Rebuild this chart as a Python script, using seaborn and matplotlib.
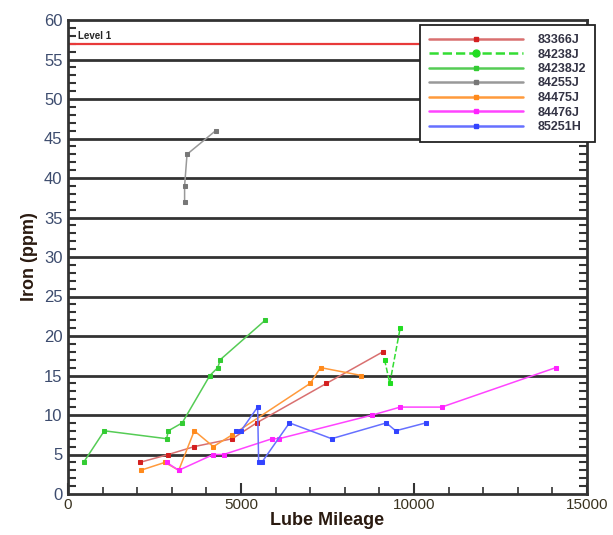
import numpy as np
import pandas as pd
import matplotlib
matplotlib.use("Agg")
import matplotlib.pyplot as plt
import seaborn as sns
from matplotlib.ticker import MultipleLocator

# series (lube mileage, iron ppm)
s83366J_x = [2075, 2900, 3650, 4750, 5450, 7470, 9100]
s83366J_y = [4, 5, 6, 7, 9, 14, 18]
s84238J_x = [9150, 9300, 9600]
s84238J_y = [17, 14, 21]
s84238J2_x = [450, 1050, 2850, 2900, 3300, 4100, 4330, 4400, 5700]
s84238J2_y = [4, 8, 7, 8, 9, 15, 16, 17, 22]
s84255J_x = [3370, 3370, 3440, 4270]
s84255J_y = [37, 39, 43, 46]
s84475J_x = [2100, 2800, 3200, 3650, 4200, 4750, 7000, 7300, 8480]
s84475J_y = [3, 4, 3, 8, 6, 7.5, 14, 16, 15]
s84476J_x = [2850, 3200, 4200, 4500, 5900, 6100, 8800, 9600, 10800, 14100]
s84476J_y = [4, 3, 5, 5, 7, 7, 10, 11, 11, 16]
s85251H_x = [4850, 5000, 5480, 5510, 5600, 6400, 7620, 9200, 9470, 10340]
s85251H_y = [8, 8, 11, 4, 4, 9, 7, 9, 8, 9]
level1 = 57

names = ["83366J", "84238J", "84238J2", "84255J", "84475J", "84476J", "85251H"]
xs = [s83366J_x, s84238J_x, s84238J2_x, s84255J_x, s84475J_x, s84476J_x, s85251H_x]
ys = [s83366J_y, s84238J_y, s84238J2_y, s84255J_y, s84475J_y, s84476J_y, s85251H_y]
colors = ["#d42020", "#22dd22", "#33cc33", "#777777", "#ff8a1c", "#ff22ff", "#3344ff"]
line_colors = ["#d97070", "#33dd33", "#55cc55", "#999999", "#ff9a3c", "#ff44ff", "#6670ff"]

sns.set_style("white")
plt.rcParams['font.family'] = ['Liberation Sans', 'DejaVu Sans']

fig = plt.figure(figsize=(6.13, 5.35), dpi=100)
ax = fig.add_axes([68 / 613, 1 - 494 / 535, (587 - 68) / 613, (494 - 20) / 535])

for yv in range(5, 60, 5):
    ax.axhline(yv, color="#333333", lw=2, zorder=1)
ax.axhline(level1, color="#e83a3a", lw=1.6, zorder=2)
ax.text(300, level1 + 0.4, "Level 1", fontsize=7, fontweight="bold", va="bottom", ha="left")

handles = []
for name, x, y, c, lc in zip(names, xs, ys, colors, line_colors):
    df = pd.DataFrame({"mileage": x, "iron": y})
    ls = "--" if name == "84238J" else "-"
    sns.lineplot(data=df, x="mileage", y="iron", ax=ax, sort=False, estimator=None,
                 color=lc, lw=1.1, linestyle=ls, marker="s", markersize=3.5,
                 markerfacecolor=c, markeredgecolor=c, zorder=3)
    h = plt.Line2D([], [], color=lc, lw=1.8, linestyle=ls, marker="o" if name == "84238J" else "s",
                   markersize=5 if name == "84238J" else 2.5, markerfacecolor=c, markeredgecolor=c)
    handles.append(h)

ax.set_xlim(0, 15000)
ax.set_ylim(0, 60)
ax.xaxis.set_major_locator(MultipleLocator(5000))
ax.xaxis.set_minor_locator(MultipleLocator(1000))
ax.yaxis.set_major_locator(MultipleLocator(5))
ax.yaxis.set_minor_locator(MultipleLocator(1))
ax.tick_params(which="both", direction="in", left=True, bottom=True, top=False, right=True,
               color="#333333")
ax.tick_params(which="major", axis="x", length=8, width=1.5, labelsize=11, labelcolor="#3a3320", pad=3)
ax.tick_params(which="minor", axis="x", length=5, width=1.2)
ax.tick_params(which="major", axis="y", length=0, labelsize=12, labelcolor="#3d4c6e", pad=4)
ax.tick_params(which="minor", axis="y", length=6, width=1.5)

for side in ["left", "bottom", "right", "top"]:
    ax.spines[side].set_color("#333333")
    ax.spines[side].set_linewidth(2)

ax.set_xlabel("Lube Mileage", fontsize=13, fontweight="bold", color="#2a1a10", labelpad=0)
ax.set_ylabel("Iron (ppm)", fontsize=13, fontweight="bold", color="#2a1a10", labelpad=4)

leg = fig.legend(handles, names, loc="upper right", bbox_to_anchor=(601 / 613, 1 - 19 / 535),
                 frameon=True, fancybox=False, handlelength=7.5, framealpha=1,
                 prop={"weight": "bold", "size": 9}, labelspacing=0.2, borderpad=0.7,
                 handletextpad=1.2, numpoints=1)
leg.get_frame().set_edgecolor("#222222")
leg.get_frame().set_linewidth(1.3)
for t in leg.get_texts():
    t.set_color("#333344")

fig.savefig("out.png", dpi=100)
